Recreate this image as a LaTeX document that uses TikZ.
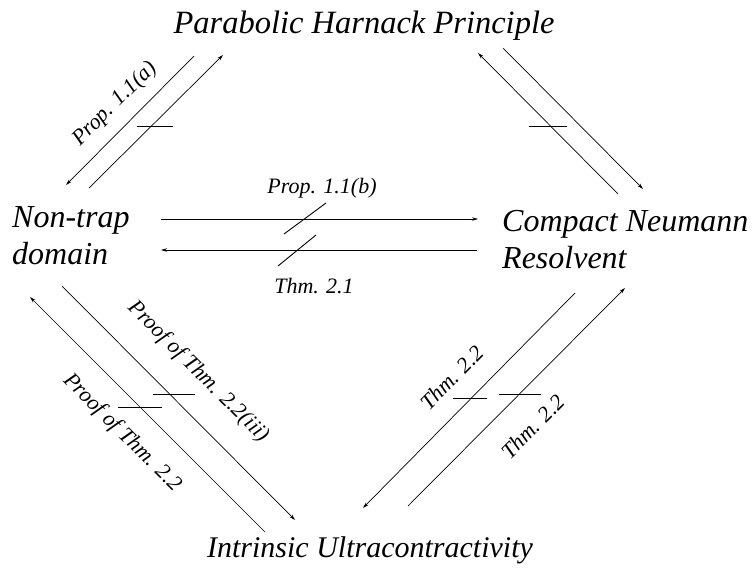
\documentclass[tikz,border=0pt]{standalone}
\usepackage{fontspec}
\setmainfont{Liberation Serif}
\usetikzlibrary{arrows.meta}
\begin{document}
\begin{tikzpicture}[x=1pt,y=-1pt,
  conn/.style={line width=0.7pt},
  arr/.style={conn,-{Stealth[length=6pt,width=3.5pt]}},
  tickln/.style={line width=0.9pt},
  title/.style={font=\fontsize{32}{37}\selectfont\itshape, inner sep=0pt},
  lab/.style={font=\fontsize{22}{26}\selectfont\itshape, inner sep=0pt}]
\useasboundingbox (0,0) rectangle (753,576);

% main statements
\node[title, font=\fontsize{32.5}{37}\selectfont\itshape, anchor=base] (php) at (364,33) {Parabolic Harnack Principle};
\node[title, anchor=base west, align=left] (ntd) at (12,264) {Non-trap\\domain};
\node[title, anchor=base west, align=left] (cnr) at (502,268) {Compact Neumann\\Resolvent};
\node[title, font=\fontsize{30}{37}\selectfont\itshape, anchor=base] (iu) at (370,557) {Intrinsic Ultracontractivity};

% top-left pair
\coordinate (a1s) at (194,56); \coordinate (a1e) at (66,185);
\coordinate (a2s) at (89,188); \coordinate (a2e) at (223,55);
\draw[arr] (a1s) -- (a1e);
\draw[arr] (a2s) -- (a2e);
\coordinate (t1) at (155,126);
\draw[tickln] ([xshift=-18pt]t1) -- ([xshift=18pt]t1);
\node[lab, rotate=45] (la) at (115,104) {Prop. 1.1(a)};

% top-right pair
\coordinate (b1s) at (618,194); \coordinate (b1e) at (478,53);
\coordinate (b2s) at (503,48); \coordinate (b2e) at (643,189);
\draw[arr] (b1s) -- (b1e);
\draw[arr] (b2s) -- (b2e);
\coordinate (t2) at (548,126);
\draw[tickln] ([xshift=-19pt]t2) -- ([xshift=19pt]t2);

% middle pair
\coordinate (c1s) at (161,219); \coordinate (c1e) at (478,219);
\coordinate (c2s) at (477,250); \coordinate (c2e) at (161,250);
\draw[arr] (c1s) -- (c1e);
\draw[arr] (c2s) -- (c2e);
\coordinate (s1a) at (284,234); \coordinate (s1b) at (326,203);
\coordinate (s2a) at (278,266); \coordinate (s2b) at (316,235);
\draw[tickln] (s1a) -- (s1b);
\draw[tickln] (s2a) -- (s2b);
\node[lab, anchor=base] (lb) at (322,193) {Prop. 1.1(b)};
\node[lab, anchor=base] (lc) at (314,293) {Thm. 2.1};

% bottom-left pair
\coordinate (d1s) at (265,532); \coordinate (d1e) at (30,297);
\coordinate (d2s) at (62,286); \coordinate (d2e) at (295,520);
\draw[arr] (d1s) -- (d1e);
\draw[arr] (d2s) -- (d2e);
\coordinate (t3) at (140,407);
\draw[tickln] ([xshift=-22pt]t3) -- ([xshift=22pt]t3);
\coordinate (t4) at (174,394);
\draw[tickln] ([xshift=-21pt]t4) -- ([xshift=21pt]t4);
\node[lab, rotate=-45] (ld) at (198,372) {Proof of Thm. 2.2(iii)};
\node[lab, rotate=-45] (le) at (122,433) {Proof of Thm. 2.2};

% bottom-right pair
\coordinate (e1s) at (575,293); \coordinate (e1e) at (363,508);
\coordinate (e2s) at (408,506); \coordinate (e2e) at (625,288);
\draw[arr] (e1s) -- (e1e);
\draw[arr] (e2s) -- (e2e);
\coordinate (t5) at (470,398);
\draw[tickln] ([xshift=-17pt]t5) -- ([xshift=17pt]t5);
\coordinate (t6) at (520,394);
\draw[tickln] ([xshift=-21pt]t6) -- ([xshift=21pt]t6);
\node[lab, rotate=45] (lf) at (452,378) {Thm. 2.2};
\node[lab, rotate=45] (lg) at (533,427) {Thm. 2.2};
\end{tikzpicture}
\end{document}
